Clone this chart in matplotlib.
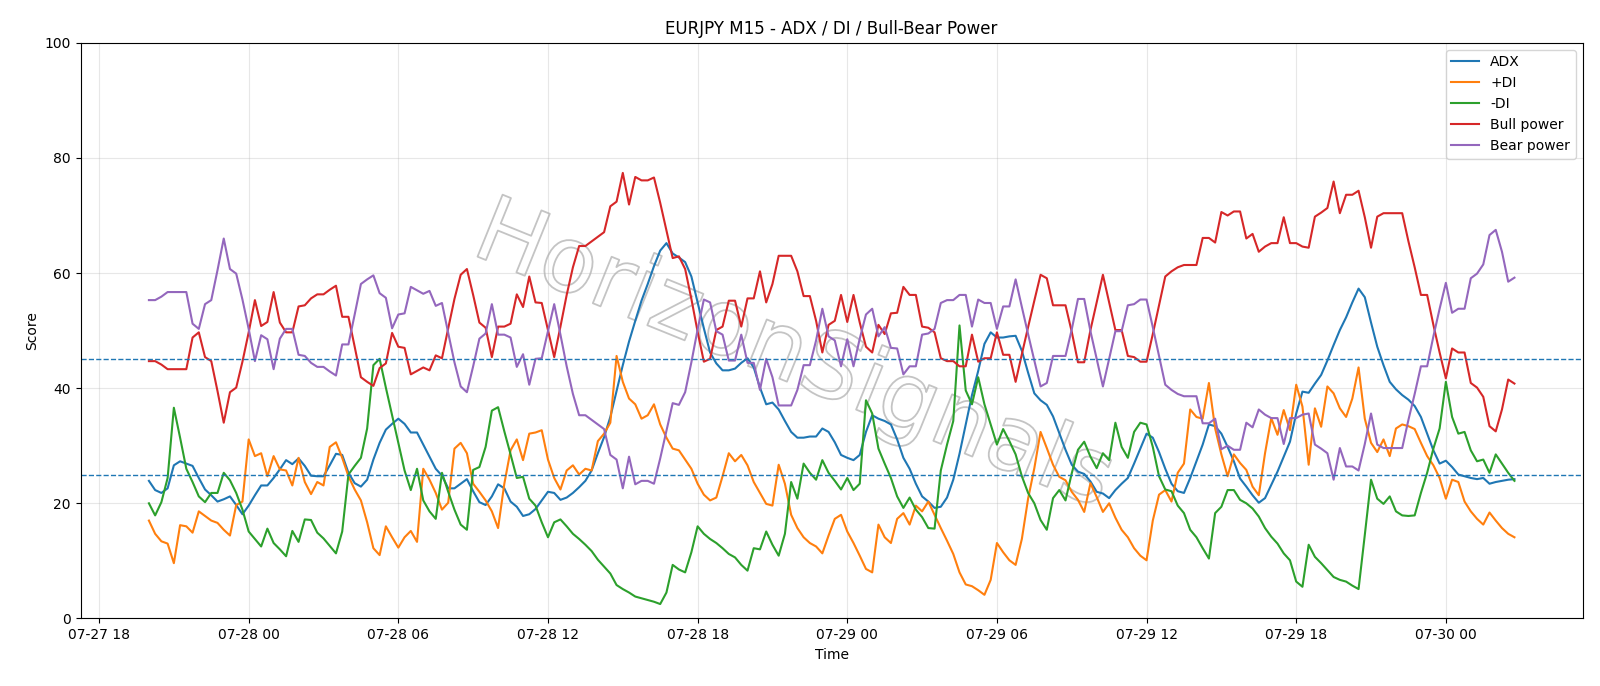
import numpy as np
import pandas as pd
import matplotlib
matplotlib.use("Agg")
import matplotlib.pyplot as plt
import matplotlib.dates as mdates
import matplotlib.patheffects as pe

start_time = "2025-07-27 20:00"
n_points = 220

adx = [
    23.9, 22.3, 21.8, 22.6, 26.6, 27.3, 26.9, 26.5, 24.4, 22.4,
    21.4, 20.3, 20.7, 21.2, 19.7, 18.1, 19.6, 21.4, 23.1, 23.1,
    24.4, 25.9, 27.5, 26.8, 27.8, 26.5, 24.8, 24.7, 24.7, 26.6,
    28.6, 28.4, 25.3, 23.5, 22.9, 24.1, 27.6, 30.5, 32.8, 33.8,
    34.7, 33.8, 32.3, 32.3, 30.2, 28.1, 26.0, 24.8, 22.6, 22.6,
    23.4, 24.2, 22.1, 20.2, 19.7, 21.2, 23.3, 22.6, 20.3, 19.4,
    17.8, 18.1, 19.0, 20.5, 22.0, 21.8, 20.6, 21.0, 21.8, 22.8,
    23.9, 25.7, 28.7, 31.5, 35.0, 39.5, 44.0, 48.1, 51.7, 55.2,
    58.1, 61.2, 63.9, 65.2, 63.4, 62.7, 61.9, 59.4, 54.9, 50.4,
    46.2, 44.3, 43.1, 43.1, 43.4, 44.4, 45.2, 43.6, 40.1, 37.2,
    37.5, 36.3, 34.3, 32.4, 31.4, 31.4, 31.6, 31.6, 33.0, 32.4,
    30.6, 28.4, 27.9, 27.5, 28.4, 32.4, 35.3, 34.7, 34.3, 33.7,
    31.1, 27.9, 26.0, 23.4, 21.2, 20.3, 19.2, 19.4, 21.0, 24.1,
    28.6, 33.7, 38.8, 43.0, 47.7, 49.7, 48.8, 48.8, 49.0, 49.1,
    46.5, 42.7, 39.1, 37.9, 37.1, 35.1, 32.2, 29.3, 26.7, 25.5,
    25.1, 23.8, 22.0, 21.7, 20.9, 22.3, 23.4, 24.4, 26.9, 29.5,
    32.1, 31.4, 28.9, 26.0, 23.4, 22.1, 21.8, 24.4, 27.3, 30.2,
    33.7, 33.4, 32.1, 29.8, 27.3, 24.3, 22.9, 21.4, 20.1, 20.9,
    23.2, 25.5, 28.1, 30.7, 35.6, 39.4, 39.2, 40.8, 42.3, 44.8,
    47.5, 50.1, 52.3, 54.9, 57.3, 55.8, 51.4, 47.2, 44.0, 41.1,
    39.8, 38.8, 38.0, 36.9, 35.0, 32.1, 29.2, 26.9, 27.4, 26.3,
    25.0, 24.7, 24.4, 24.2, 24.4, 23.4, 23.7, 23.9, 24.1, 24.2,
]

plus_di = [
    17.0, 14.7, 13.4, 13.0, 9.6, 16.2, 16.0, 14.9, 18.6, 17.8,
    17.0, 16.6, 15.4, 14.4, 19.7, 20.3, 31.1, 28.2, 28.7, 24.7,
    28.2, 25.9, 25.7, 23.1, 27.9, 23.7, 21.6, 23.7, 23.1, 29.8,
    30.6, 27.9, 24.7, 22.4, 20.5, 16.7, 12.2, 11.0, 16.0, 14.1,
    12.3, 14.1, 15.2, 13.3, 26.0, 24.1, 21.8, 18.9, 20.1, 29.5,
    30.5, 28.7, 23.4, 22.0, 20.5, 18.6, 15.7, 23.4, 29.2, 31.1,
    27.5, 32.1, 32.3, 32.7, 27.6, 24.4, 22.4, 25.7, 26.6, 25.0,
    26.0, 25.7, 30.8, 32.1, 34.0, 45.6, 41.1, 38.2, 37.2, 34.7,
    35.3, 37.2, 33.7, 31.4, 29.5, 29.2, 27.6, 26.0, 23.4, 21.5,
    20.5, 21.0, 24.7, 28.7, 27.3, 28.4, 26.6, 23.7, 21.8, 19.9,
    19.6, 26.7, 23.4, 18.0, 15.7, 14.1, 13.1, 12.5, 11.3, 14.4,
    17.3, 18.0, 15.1, 13.1, 10.9, 8.6, 8.0, 16.3, 14.1, 13.1,
    17.3, 18.3, 16.3, 19.6, 18.6, 20.3, 18.0, 15.7, 13.5, 11.2,
    8.0, 5.9, 5.6, 4.9, 4.1, 6.7, 13.1, 11.5, 10.1, 9.3,
    13.8, 20.8, 26.1, 32.4, 29.6, 26.7, 24.6, 24.0, 22.0, 20.6,
    18.5, 23.5, 21.1, 18.5, 20.0, 17.5, 15.4, 14.1, 12.2, 10.9,
    10.1, 17.0, 21.5, 22.3, 20.3, 25.3, 26.9, 36.3, 35.0, 34.7,
    40.9, 33.0, 28.5, 24.7, 28.5, 27.0, 25.8, 22.9, 21.4, 28.7,
    34.8, 31.9, 36.2, 32.7, 40.6, 36.8, 26.7, 36.5, 33.3, 40.3,
    39.1, 36.5, 35.0, 38.2, 43.6, 34.7, 30.5, 28.9, 31.1, 28.2,
    33.0, 33.7, 33.4, 32.9, 30.5, 28.2, 26.6, 24.4, 20.8, 24.1,
    23.7, 20.3, 18.6, 17.3, 16.3, 18.4, 17.0, 15.7, 14.7, 14.1,
]

minus_di = [
    20.0, 17.9, 20.2, 24.4, 36.6, 31.4, 26.0, 23.7, 21.2, 20.2,
    21.8, 21.8, 25.3, 24.0, 21.8, 18.9, 15.1, 13.8, 12.5, 15.6,
    13.1, 12.0, 10.8, 15.2, 13.3, 17.2, 17.1, 14.9, 13.9, 12.6,
    11.3, 15.1, 25.0, 26.5, 27.9, 33.0, 44.0, 45.1, 40.1, 35.3,
    30.5, 25.7, 22.3, 26.0, 20.5, 18.6, 17.3, 25.3, 22.0, 18.9,
    16.3, 15.4, 25.8, 26.3, 29.8, 36.1, 36.7, 32.5, 28.5, 24.4,
    24.6, 20.8, 19.6, 16.7, 14.1, 16.7, 17.2, 16.0, 14.7, 13.8,
    12.8, 11.7, 10.2, 9.0, 7.8, 5.8, 5.1, 4.5, 3.8, 3.5,
    3.2, 2.9, 2.5, 4.5, 9.3, 8.5, 8.0, 11.5, 16.0, 14.7,
    13.8, 13.1, 12.2, 11.2, 10.6, 9.3, 8.3, 12.2, 12.0, 15.1,
    12.8, 10.9, 14.7, 23.7, 20.8, 26.9, 25.3, 24.1, 27.5, 25.3,
    23.9, 22.4, 24.4, 22.3, 23.4, 37.9, 35.6, 29.5, 26.9, 24.4,
    21.2, 19.2, 21.0, 18.9, 17.6, 15.7, 15.6, 25.7, 30.2, 34.3,
    50.9, 39.6, 37.2, 41.9, 37.2, 33.7, 30.2, 32.9, 30.8, 28.5,
    24.7, 21.8, 20.0, 17.1, 15.4, 20.9, 22.3, 20.5, 25.2, 29.3,
    30.7, 28.1, 26.1, 28.7, 27.5, 34.0, 29.8, 27.9, 32.4, 34.0,
    33.7, 29.8, 24.7, 22.4, 22.1, 19.6, 18.3, 15.4, 14.1, 12.2,
    10.4, 18.3, 19.4, 22.3, 22.3, 20.6, 20.0, 19.1, 17.7, 15.7,
    14.2, 13.0, 11.3, 10.1, 6.4, 5.5, 12.8, 10.7, 9.6, 8.4,
    7.2, 6.7, 6.4, 5.7, 5.1, 14.5, 24.1, 20.8, 19.9, 21.2,
    18.6, 17.9, 17.8, 17.9, 21.8, 25.3, 29.5, 33.0, 41.1, 35.0,
    32.1, 32.4, 29.2, 27.3, 27.6, 25.3, 28.5, 26.9, 25.3, 23.9,
]

bull_power = [
    44.7, 44.7, 44.1, 43.3, 43.3, 43.3, 43.3, 48.8, 49.7, 45.4,
    44.7, 39.5, 34.0, 39.3, 40.1, 44.6, 49.7, 55.3, 50.8, 51.5,
    56.7, 51.4, 49.7, 49.7, 54.2, 54.4, 55.6, 56.3, 56.3, 57.1,
    57.8, 52.4, 52.4, 47.2, 41.9, 41.1, 40.4, 43.5, 44.3, 49.6,
    47.2, 47.0, 42.4, 43.0, 43.6, 43.1, 45.7, 45.2, 50.4, 55.5,
    59.7, 60.7, 56.2, 51.4, 50.5, 45.4, 50.7, 50.7, 51.2, 56.3,
    54.1, 59.4, 54.9, 54.8, 50.1, 45.4, 50.7, 56.2, 61.0, 64.7,
    64.7, 65.5, 66.3, 67.1, 71.6, 72.4, 77.4, 71.9, 76.7, 76.1,
    76.1, 76.6, 72.2, 67.4, 62.6, 62.9, 60.7, 55.5, 49.8, 44.6,
    45.1, 50.1, 50.7, 55.2, 55.2, 50.7, 55.6, 55.6, 60.3, 54.9,
    58.1, 63.0, 63.0, 63.0, 60.3, 56.0, 56.0, 51.7, 46.2, 51.0,
    51.7, 56.2, 51.5, 56.2, 51.4, 47.2, 46.2, 51.0, 49.4, 53.0,
    53.1, 57.6, 56.2, 56.2, 50.7, 50.5, 49.7, 45.2, 44.7, 44.7,
    43.8, 43.8, 49.3, 44.6, 45.2, 45.2, 49.7, 45.8, 45.8, 41.1,
    45.9, 50.6, 55.2, 59.7, 59.1, 54.4, 54.4, 54.4, 49.8, 44.5,
    44.5, 50.1, 54.9, 59.7, 54.9, 50.1, 50.1, 45.6, 45.4, 44.6,
    44.6, 49.4, 54.4, 59.4, 60.3, 61.0, 61.4, 61.4, 61.4, 66.1,
    66.1, 65.3, 70.6, 70.0, 70.7, 70.7, 66.0, 66.8, 63.7, 64.6,
    65.2, 65.2, 69.7, 65.2, 65.2, 64.6, 64.4, 69.8, 70.5, 71.3,
    75.9, 70.4, 73.6, 73.6, 74.3, 69.7, 64.4, 69.8, 70.4, 70.4,
    70.4, 70.4, 65.5, 61.0, 56.2, 56.2, 51.0, 46.2, 41.7, 46.9,
    46.2, 46.2, 40.9, 40.1, 38.5, 33.4, 32.5, 36.3, 41.5, 40.8,
]

bear_power = [
    55.3, 55.3, 55.9, 56.7, 56.7, 56.7, 56.7, 51.2, 50.3, 54.6,
    55.3, 60.5, 66.0, 60.7, 59.9, 55.4, 50.3, 44.7, 49.2, 48.5,
    43.3, 48.6, 50.3, 50.3, 45.8, 45.6, 44.4, 43.7, 43.7, 42.9,
    42.2, 47.6, 47.6, 52.8, 58.1, 58.9, 59.6, 56.5, 55.7, 50.4,
    52.8, 53.0, 57.6, 57.0, 56.4, 56.9, 54.3, 54.8, 49.6, 44.5,
    40.3, 39.3, 43.8, 48.6, 49.5, 54.6, 49.3, 49.3, 48.8, 43.7,
    45.9, 40.6, 45.1, 45.2, 49.9, 54.6, 49.3, 43.8, 39.0, 35.3,
    35.3, 34.5, 33.7, 32.9, 28.4, 27.6, 22.6, 28.1, 23.3, 23.9,
    23.9, 23.4, 27.8, 32.6, 37.4, 37.1, 39.3, 44.5, 50.2, 55.4,
    54.9, 49.9, 49.3, 44.8, 44.8, 49.3, 44.4, 44.4, 39.7, 45.1,
    41.9, 37.0, 37.0, 37.0, 39.7, 44.0, 44.0, 48.3, 53.8, 49.0,
    48.3, 43.8, 48.5, 43.8, 48.6, 52.8, 53.8, 49.0, 50.6, 47.0,
    46.9, 42.4, 43.8, 43.8, 49.3, 49.5, 50.3, 54.8, 55.3, 55.3,
    56.2, 56.2, 50.7, 55.4, 54.8, 54.8, 50.3, 54.2, 54.2, 58.9,
    54.1, 49.4, 44.8, 40.3, 40.9, 45.6, 45.6, 45.6, 50.2, 55.5,
    55.5, 49.9, 45.1, 40.3, 45.1, 49.9, 49.9, 54.4, 54.6, 55.4,
    55.4, 50.6, 45.6, 40.6, 39.7, 39.0, 38.6, 38.6, 38.6, 33.9,
    33.9, 34.7, 29.4, 30.0, 29.3, 29.3, 34.0, 33.2, 36.3, 35.4,
    34.8, 34.8, 30.3, 34.8, 34.8, 35.4, 35.6, 30.2, 29.5, 28.7,
    24.1, 29.6, 26.4, 26.4, 25.7, 30.3, 35.6, 30.2, 29.6, 29.6,
    29.6, 29.6, 34.5, 39.0, 43.8, 43.8, 49.0, 53.8, 58.3, 53.1,
    53.8, 53.8, 59.1, 59.9, 61.5, 66.6, 67.5, 63.7, 58.5, 59.2,
]

series_labels = ["ADX", "+DI", "-DI", "Bull power", "Bear power"]
threshold_levels = [25, 45]
watermark_text = "HorizonSignals"

times = pd.date_range(start_time, periods=n_points, freq="15min")

fig = plt.figure(figsize=(16, 6.86), dpi=100)
ax = fig.add_subplot(111)
fig.subplots_adjust(left=0.0504, right=0.9892, top=0.9376, bottom=0.0985)

for vals, lab in zip([adx, plus_di, minus_di, bull_power, bear_power], series_labels):
    ax.plot(times, vals, label=lab, linewidth=1.5)

for lvl in threshold_levels:
    ax.axhline(lvl, color="tab:blue", linestyle="--", linewidth=1.0)

ax.set_ylim(0, 100)
ax.grid(True, alpha=0.3)
ax.xaxis.set_major_locator(mdates.HourLocator(byhour=[0, 6, 12, 18]))
ax.xaxis.set_major_formatter(mdates.DateFormatter("%m-%d %H"))
ax.set_title("EURJPY M15 - ADX / DI / Bull-Bear Power")
ax.set_xlabel("Time")
ax.set_ylabel("Score")
ax.legend(loc="upper right")

ax.text(0.475, 0.455, watermark_text, transform=ax.transAxes,
        fontsize=66, rotation=-22, ha="center", va="center",
        color="none", zorder=0.5,
        path_effects=[pe.withStroke(linewidth=1.3, foreground="#c4c4c4")])

fig.savefig("out.png", dpi=100)
